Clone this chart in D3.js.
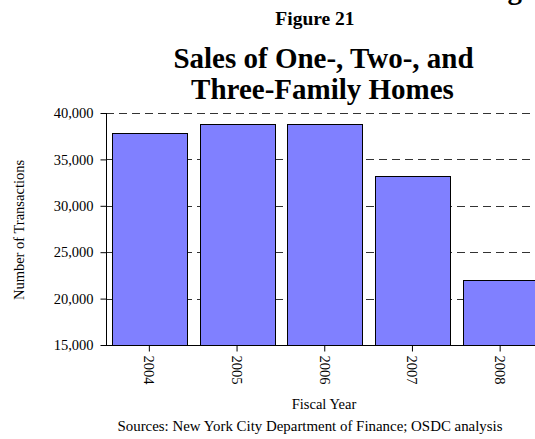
<!DOCTYPE html>
<html>
<head>
<meta charset="utf-8">
<script src="https://cdn.jsdelivr.net/npm/d3@7"></script>
<style>
  html, body { margin: 0; padding: 0; background: #fff; overflow: hidden; }
  svg { display: block; }
  text { font-family: "Liberation Serif", "Times New Roman", serif; fill: #000; }
</style>
</head>
<body>
<svg id="chart" width="535" height="439"></svg>
<script>
const years = ["2004", "2005", "2006", "2007", "2008"];
const transactions = [37800, 38800, 38800, 33200, 22000];
const yTicks = [15000, 20000, 25000, 30000, 35000, 40000];
const headerFragment = "Housing";
const figureLabel = "Figure 21";
const titleLines = ["Sales of One-, Two-, and", "Three-Family Homes"];
const xTitle = "Fiscal Year";
const yTitle = "Number of Transactions";
const sourceText = "Sources: New York City Department of Finance; OSDC analysis";

const svg = d3.select("#chart");

const x = d3.scaleBand().domain(years).range([105.5, 544])
  .paddingInner(0.145).paddingOuter(0.0725);
const y = d3.scaleLinear().domain([15000, 40000]).range([345, 113]);

// cut-off page header fragment at the very top (only the descender shows)
svg.append("text").attr("x", 522).attr("y", -1).attr("text-anchor", "end")
  .attr("font-weight", "bold").attr("font-size", 29).text(headerFragment);

// titles
svg.append("text").attr("x", 315).attr("y", 25).attr("text-anchor", "middle")
  .attr("font-weight", "bold").attr("font-size", 19.5).text(figureLabel);
svg.append("text").attr("x", 323.5).attr("y", 67.5).attr("text-anchor", "middle")
  .attr("font-weight", "bold").attr("font-size", 29).text(titleLines[0]);
svg.append("text").attr("x", 322.5).attr("y", 99).attr("text-anchor", "middle")
  .attr("font-weight", "bold").attr("font-size", 29).text(titleLines[1]);

// gridlines
svg.append("g").selectAll("line").data(yTicks.filter(d => d > 15000)).join("line")
  .attr("x1", 106).attr("x2", 535)
  .attr("y1", d => Math.round(y(d)) + 0.5).attr("y2", d => Math.round(y(d)) + 0.5)
  .attr("stroke", "#333").attr("stroke-width", 1).attr("stroke-dasharray", "8,5");

// bars
svg.append("g").selectAll("rect").data(years).join("rect")
  .attr("x", d => Math.round(x(d)) + 0.5)
  .attr("y", (d, i) => Math.round(y(transactions[i])) + 0.5)
  .attr("width", Math.round(x.bandwidth()))
  .attr("height", (d, i) => Math.round(y(15000)) - Math.round(y(transactions[i])))
  .attr("fill", "#8080ff").attr("stroke", "#000").attr("stroke-width", 1);

// y axis
const yAxis = d3.axisLeft(y).tickValues(yTicks).tickSize(6).tickPadding(7)
  .tickFormat(d3.format(","));
const gy = svg.append("g").attr("transform", "translate(106.5,0)").call(yAxis);
gy.select(".domain").attr("d", `M0,${y(40000)}V${y(15000)}`).attr("stroke", "#000");
gy.selectAll(".tick line").attr("stroke", "#000");
gy.selectAll(".tick text").attr("font-family", "Liberation Serif, serif")
  .attr("font-size", 14.5).attr("fill", "#000");

// x axis
const xAxis = d3.axisBottom(x).tickSize(6).tickSizeOuter(0);
const gx = svg.append("g").attr("transform", `translate(0,${Math.round(y(15000)) + 0.5})`).call(xAxis);
gx.select(".domain").attr("d", "M106,0H535").attr("stroke", "#000");
gx.selectAll(".tick line").attr("stroke", "#000");
gx.selectAll(".tick text")
  .attr("font-family", "Liberation Serif, serif").attr("font-size", 14.5).attr("fill", "#000")
  .attr("text-anchor", "start").attr("dy", null)
  .attr("dominant-baseline", "central")
  .attr("transform", "translate(0,10) rotate(90)")
  .attr("x", 0).attr("y", 0);

// axis titles
svg.append("text").attr("x", 324).attr("y", 409).attr("text-anchor", "middle")
  .attr("font-size", 14.5).text(xTitle);
svg.append("text").attr("transform", "translate(24,230) rotate(-90)")
  .attr("text-anchor", "middle").attr("font-size", 14.5).text(yTitle);

// source
svg.append("text").attr("x", 310).attr("y", 431).attr("text-anchor", "middle")
  .attr("font-size", 14.9).text(sourceText);
</script>
</body>
</html>
